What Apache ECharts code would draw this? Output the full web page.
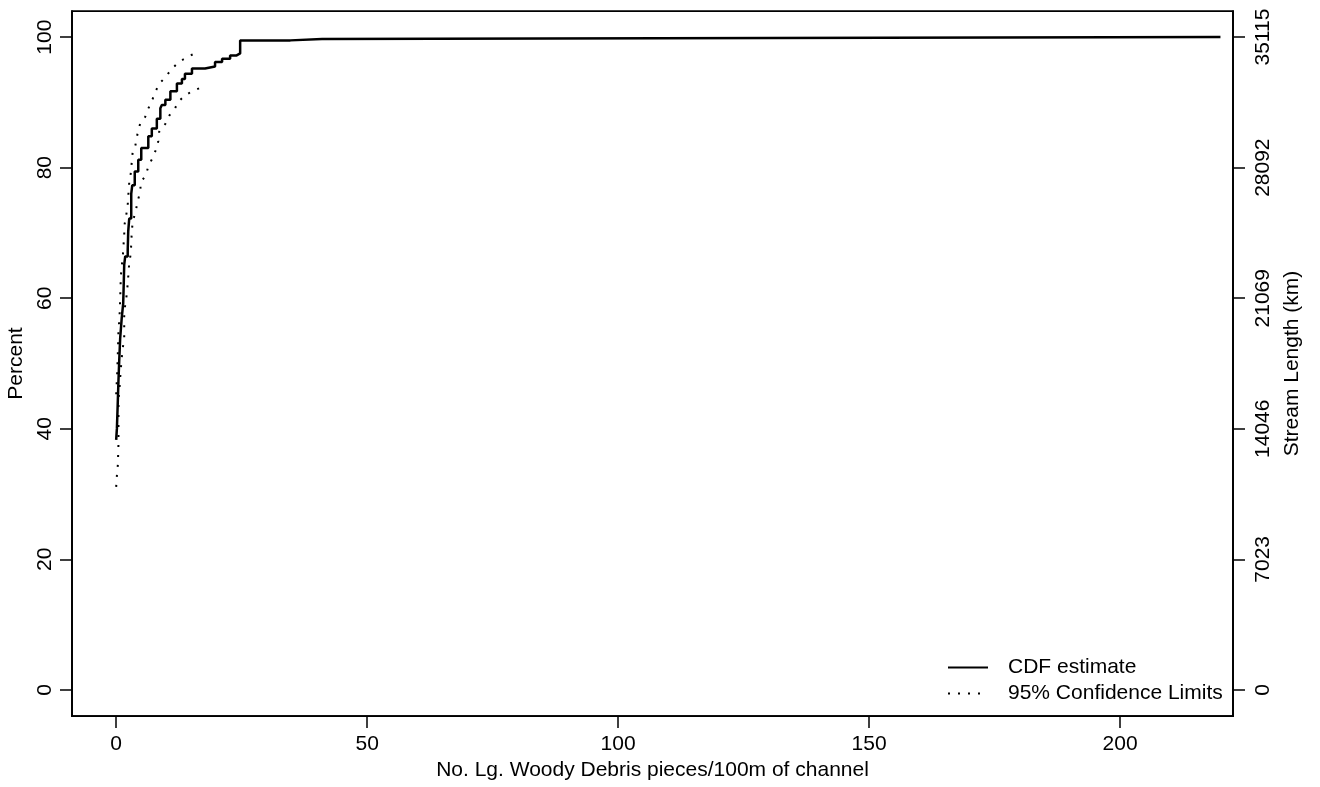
<!DOCTYPE html>
<html>
<head>
<meta charset="utf-8">
<script src="https://cdn.jsdelivr.net/npm/echarts@6/dist/echarts.min.js"></script>
<style>
html,body{margin:0;padding:0;background:#fff;}
#chart{width:1320px;height:787px;}
</style>
</head>
<body>
<div id="chart"></div>
<script>
// ---- data ----
const xTicks = [0, 50, 100, 150, 200];
const yTicks = [0, 20, 40, 60, 80, 100];
const rightTickLabels = ['0', '7023', '14046', '21069', '28092', '35115'];

const cdfX = [0, 0.15, 0.3, 0.45, 0.6, 0.8, 1.1, 1.4, 1.5, 1.6, 1.8, 2.3, 2.4, 2.6, 3.0, 3.2, 3.7, 4.4, 5.0, 5.9, 6.4, 7.1, 8.1, 8.8, 9.1, 9.8, 10.8, 12.1, 13.1, 13.7, 15.1, 17.7, 19.7, 21.1, 22.7, 24.0, 24.7, 34.7, 41, 220];
const cdfY = [38.3, 40.1, 43.6, 47.2, 50.3, 53.9, 56.9, 59.2, 62.0, 65.1, 66.4, 67.4, 70.2, 72.2, 76.0, 77.3, 79.4, 81.2, 83.0, 83.0, 84.8, 86.0, 87.5, 89.1, 89.6, 90.4, 91.7, 92.9, 93.6, 94.4, 95.2, 95.5, 96.2, 96.7, 97.2, 97.5, 99.5, 99.7, 100, 100];

const upperX = [0, 0.2, 0.34, 0.46, 0.66, 0.8, 0.93, 1.1, 1.33, 1.45, 1.6, 1.65, 2.0, 2.3, 2.45, 2.6, 2.9, 3.1, 3.3, 3.8, 4.3, 4.8, 5.8, 6.3, 7.1, 7.8, 8.6, 9.9, 10.9, 12.1, 13.4, 15.1, 16.7];
const upperY = [45.3, 48.5, 51.8, 55.1, 57.0, 60.0, 63.4, 64.8, 66.5, 68.0, 69.6, 71.2, 72.7, 74.3, 76.1, 77.7, 79.1, 80.8, 82.5, 83.3, 85.4, 86.8, 87.8, 88.9, 90.2, 91.6, 92.9, 93.9, 95.0, 95.9, 96.6, 97.3, 97.8];

const lowerX = [0, 0.14, 0.34, 0.46, 0.46, 0.66, 0.8, 0.94, 1.1, 1.33, 1.6, 1.6, 1.8, 2.1, 2.3, 2.45, 2.6, 2.9, 3.0, 3.1, 3.3, 3.9, 4.25, 4.8, 4.9, 5.9, 6.4, 7.2, 7.9, 8.4, 8.6, 9.8, 10.6, 11.6, 12.4, 13.6, 15.1, 16.7];
const lowerY = [31.1, 32.8, 34.5, 37.8, 44.4, 46.1, 47.8, 49.3, 50.8, 52.4, 54.0, 57.3, 59.0, 60.5, 62.2, 63.8, 65.4, 66.8, 68.3, 70.1, 71.8, 73.3, 74.8, 76.3, 77.8, 78.8, 80.2, 81.4, 82.7, 84.1, 85.7, 86.7, 88.0, 88.9, 90.1, 91.0, 91.7, 92.2];

const zip = (xs, ys) => xs.map((x, i) => [x, ys[i]]);

const FONT = 'Liberation Sans, Arial, sans-serif';
const FS = 21;
const chart = echarts.init(document.getElementById('chart'), null, {renderer: 'canvas'});

const axisCommon = {
  axisLine: {show: true, onZero: false, lineStyle: {color: '#000', width: 1.75}},
  axisTick: {show: true, length: 12, lineStyle: {color: '#000', width: 1.5}},
  splitLine: {show: false},
  nameTextStyle: {fontFamily: FONT, fontSize: FS, color: '#000'}
};

chart.setOption({
  animation: false,
  backgroundColor: '#fff',
  grid: {left: 72, right: 87, top: 11, bottom: 71, containLabel: false, outerBoundsMode: 'none',
    show: true, borderColor: '#000', borderWidth: 1.75, backgroundColor: 'transparent'},
  legend: {
    orient: 'vertical', left: 947, top: 657, padding: 0,
    itemWidth: 40, itemHeight: 14, itemGap: 5,
    itemStyle: {opacity: 0},
    textStyle: {fontFamily: FONT, fontSize: FS, color: '#000', padding: [0, 0, 0, 15]},
    data: ['CDF estimate', '95% Confidence Limits']
  },
  xAxis: Object.assign({}, axisCommon, {
    type: 'value', min: -8.8, max: 222.5,
    name: 'No. Lg. Woody Debris pieces/100m of channel',
    nameLocation: 'middle', nameGap: 38,
    axisTick: Object.assign({}, axisCommon.axisTick, {customValues: xTicks}),
    axisLabel: {customValues: xTicks, fontFamily: FONT, fontSize: FS, color: '#000', margin: 18}
  }),
  yAxis: [
    Object.assign({}, axisCommon, {
      type: 'value', min: -4, max: 104, position: 'left',
      name: 'Percent', nameLocation: 'middle', nameGap: 27, nameRotate: 90,
      axisTick: Object.assign({}, axisCommon.axisTick, {customValues: yTicks}),
      axisLabel: {customValues: yTicks, rotate: 90, fontFamily: FONT, fontSize: FS, color: '#000', margin: 16}
    }),
    Object.assign({}, axisCommon, {
      type: 'value', min: -4, max: 104, position: 'right',
      name: 'Stream Length (km)', nameLocation: 'middle', nameGap: 39, nameRotate: 90,
      axisTick: Object.assign({}, axisCommon.axisTick, {customValues: yTicks}),
      axisLabel: {customValues: yTicks, rotate: 90, fontFamily: FONT, fontSize: FS, color: '#000', margin: 20,
        formatter: v => rightTickLabels[yTicks.indexOf(Math.round(v))] || ''}
    })
  ],
  series: [
    {
      name: 'CDF estimate', type: 'line', step: 'end', showSymbol: false, symbol: 'none',
      data: zip(cdfX, cdfY), lineStyle: {color: '#000', width: 2.5}, itemStyle: {color: '#000'}
    },
    {
      name: '95% Confidence Limits', type: 'line', showSymbol: false, symbol: 'none',
      data: zip(upperX, upperY), lineStyle: {color: '#000', width: 2, type: [2, 8]}, itemStyle: {color: '#000'}
    },
    {
      name: '95% Confidence Limits', type: 'line', showSymbol: false, symbol: 'none',
      data: zip(lowerX, lowerY), lineStyle: {color: '#000', width: 2, type: [2, 8]}, itemStyle: {color: '#000'}
    }
  ]
});
</script>
</body>
</html>
